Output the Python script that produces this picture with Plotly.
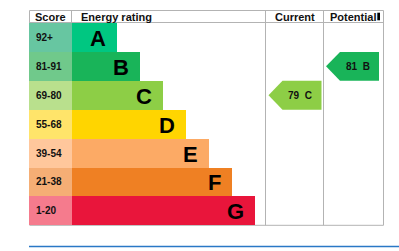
import plotly.graph_objects as go

# ---- data ----
bands = ["A", "B", "C", "D", "E", "F", "G"]
score_ranges = ["92+", "81-91", "69-80", "55-68", "39-54", "21-38", "1-20"]
band_min = [92, 81, 69, 55, 39, 21, 1]
bar_colors = ["#00c781", "#19b459", "#8dce46", "#ffd500", "#fcaa65", "#ef8023", "#e9153b"]
cell_colors = ["#67c6a1", "#70c98b", "#b9e08d", "#ffe46a", "#ffc79c", "#f5ae75", "#f57b8d"]
current_score = 79
potential_score = 81
headers = ["Score", "Energy rating", "Current", "Potential"]

# ---- layout constants (pixels) ----
W, H = 399, 251
left, score_right, cur_left, pot_left, right = 29.5, 72, 265.5, 323.5, 383.5
top, head_bot, bottom = 10.5, 23, 225.3
rh = (bottom - head_bot) / len(bands)
centers = [head_bot + rh * (i + 0.5) for i in range(len(bands))]
bar_len = [45 + 23 * i for i in range(len(bands))]
FONT = "Liberation Sans, Arial, sans-serif"
grey = "#b3b3b3"


def band_index(score):
    for i, m in enumerate(band_min):
        if score >= m:
            return i
    return len(bands) - 1


fig = go.Figure()

# score cells
fig.add_trace(go.Bar(orientation="h", y=centers, x=[score_right - 29] * len(bands), base=29,
                     width=rh, marker=dict(color=cell_colors, line=dict(width=0)),
                     hoverinfo="skip", showlegend=False))
# rating bars
fig.add_trace(go.Bar(orientation="h", y=centers, x=bar_len, base=score_right,
                     width=rh, marker=dict(color=bar_colors, line=dict(width=0)),
                     hoverinfo="skip", showlegend=False))

annotations = []
for i in range(len(bands)):
    annotations.append(dict(x=34, y=centers[i], text="<b>%s</b>" % score_ranges[i], xanchor="left",
                            yanchor="middle", showarrow=False, font=dict(family=FONT, size=10, color="#111")))
    annotations.append(dict(x=score_right + bar_len[i] - 9, y=centers[i] + 1, text="<b>%s</b>" % bands[i],
                            xanchor="right", yanchor="middle", showarrow=False,
                            font=dict(family=FONT, size=22, color="#000")))

# arrows
for score, x0, x1 in [(current_score, cur_left + 3, pot_left - 2), (potential_score, pot_left + 2.5, right - 4.5)]:
    i = band_index(score)
    yt = head_bot + rh * i
    yb = yt + rh
    xs = [x0, x0 + 14, x1, x1, x0 + 14, x0]
    ys = [(yt + yb) / 2, yt, yt, yb, yb, (yt + yb) / 2]
    fig.add_trace(go.Scatter(x=xs, y=ys, fill="toself", fillcolor=bar_colors[i], mode="lines",
                             line=dict(width=0, color=bar_colors[i]), hoverinfo="skip", showlegend=False))
    annotations.append(dict(x=x0 + 17.5, y=(yt + yb) / 2 + 0.5, text="<b>%d  %s</b>" % (score, bands[i]),
                            xanchor="left", yanchor="middle", showarrow=False,
                            font=dict(family=FONT, size=10, color="#111")))

# headers
hy = (top + head_bot) / 2 + 0.5
annotations += [
    dict(x=(left + score_right) / 2, y=hy, text="<b>%s</b>" % headers[0], xanchor="center"),
    dict(x=79, y=hy, text="<b>%s</b>" % headers[1], xanchor="left"),
    dict(x=(cur_left + pot_left) / 2, y=hy, text="<b>%s</b>" % headers[2], xanchor="center"),
    dict(x=(pot_left + right) / 2 - 0.5, y=hy, text="<b>%s</b>" % headers[3], xanchor="center"),
]
for a in annotations[-4:]:
    a.update(yanchor="middle", showarrow=False, font=dict(family=FONT, size=11, color="#111"))

line = dict(color=grey, width=1)
shapes = [
    dict(type="line", x0=left, x1=right, y0=top, y1=top, line=line),
    dict(type="line", x0=left, x1=right, y0=head_bot - 0.5, y1=head_bot - 0.5, line=line),
    dict(type="line", x0=left, x1=right, y0=bottom, y1=bottom, line=line, layer="below"),
    dict(type="line", x0=left, x1=left, y0=top, y1=head_bot, line=line),
    dict(type="line", x0=score_right - 0.5, x1=score_right - 0.5, y0=top, y1=head_bot, line=line),
    dict(type="line", x0=cur_left, x1=cur_left, y0=top, y1=bottom, line=line),
    dict(type="line", x0=pot_left, x1=pot_left, y0=top, y1=bottom, line=line),
    dict(type="line", x0=right, x1=right, y0=top, y1=bottom, line=line),
    dict(type="rect", x0=377.3, x1=380, y0=12.7, y1=20.3, fillcolor="#000", line=dict(width=0)),
    dict(type="line", x0=29, x1=W, y0=246.5, y1=246.5, line=dict(color="#2a78c6", width=1.5)),
]

fig.update_layout(
    width=W, height=H, margin=dict(l=0, r=0, t=0, b=0),
    paper_bgcolor="white", plot_bgcolor="white",
    xaxis=dict(range=[0, W], visible=False, fixedrange=True),
    yaxis=dict(range=[H, 0], visible=False, fixedrange=True),
    barmode="overlay", bargap=0,
    annotations=annotations, shapes=shapes, showlegend=False,
)
fig.write_html("out.html", config={"displayModeBar": False})
